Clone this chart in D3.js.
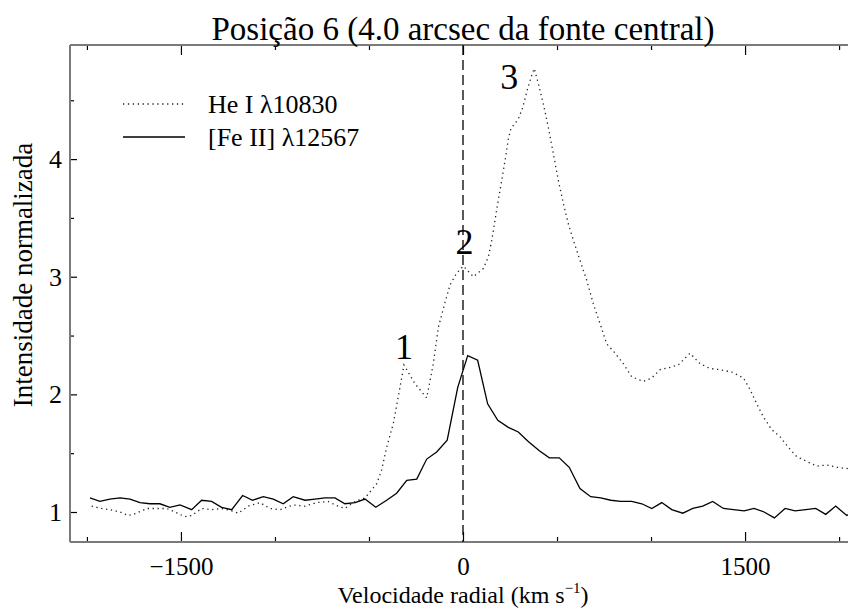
<!DOCTYPE html>
<html>
<head>
<meta charset="utf-8">
<script src="https://cdn.jsdelivr.net/npm/d3@7"></script>
<style>
  html, body { margin: 0; padding: 0; background: #fff; }
  svg { display: block; }
  text { font-family: "Liberation Serif", "Times New Roman", serif; fill: #000; }
</style>
</head>
<body>
<svg id="chart" width="848" height="608"></svg>
<script>
// He I 10830 profile: radial velocity (km/s) and normalized intensity
const heVel = [-1975, -1922, -1878, -1824, -1780, -1736, -1682, -1629, -1576, -1532,
  -1479, -1443, -1390, -1337, -1284, -1230, -1195, -1142, -1080, -1027,
  -973, -903, -840, -778, -718, -665, -628, -574, -521, -459,
  -432, -406, -371, -344, -314, -255, -193, -158, -131, -96,
  -69, -34, 2, 55, 108, 135, 153, 179, 206, 227,
  241, 255, 294, 318, 342, 365, 379, 401, 427, 454,
  480, 507, 534, 560, 587, 622, 658, 693, 729, 764,
  809, 853, 897, 959, 1004, 1048, 1101, 1145, 1207, 1261,
  1314, 1367, 1429, 1491, 1527, 1562, 1597, 1642, 1686, 1730,
  1775, 1828, 1881, 1935, 1988, 2041, 2090];
const heVal = [1.05, 1.03, 1.02, 1.00, 0.97, 0.99, 1.03, 1.03, 1.03, 1.00,
  0.96, 0.97, 1.03, 1.02, 1.03, 1.01, 0.99, 1.05, 1.08, 1.03,
  1.02, 1.06, 1.05, 1.08, 1.09, 1.05, 1.03, 1.09, 1.12, 1.24,
  1.36, 1.55, 1.75, 1.98, 2.25, 2.09, 1.97, 2.26, 2.57, 2.78,
  2.93, 3.03, 3.09, 3.00, 3.07, 3.17, 3.31, 3.57, 3.82, 4.02,
  4.17, 4.26, 4.34, 4.44, 4.59, 4.71, 4.77, 4.64, 4.47, 4.27,
  4.05, 3.82, 3.62, 3.45, 3.31, 3.14, 2.97, 2.77, 2.60, 2.43,
  2.35, 2.26, 2.15, 2.11, 2.14, 2.21, 2.23, 2.25, 2.35, 2.26,
  2.22, 2.21, 2.19, 2.14, 2.04, 1.92, 1.81, 1.70, 1.64, 1.55,
  1.47, 1.43, 1.39, 1.40, 1.38, 1.37, 1.36];

// [Fe II] 12567 profile
const feVel = [-1984, -1931, -1878, -1824, -1771, -1718, -1665, -1612, -1559, -1505,
  -1443, -1390, -1337, -1284, -1230, -1172, -1119, -1062, -1009, -956,
  -903, -840, -787, -734, -681, -628, -574, -521, -464, -406,
  -353, -299, -246, -193, -140, -84, -28, 25, 78, 131,
  185, 241, 294, 347, 406, 459, 512, 565, 622, 679,
  732, 786, 839, 897, 951, 1004, 1057, 1110, 1169, 1222,
  1275, 1328, 1385, 1438, 1495, 1548, 1601, 1656, 1713, 1766,
  1823, 1876, 1929, 1982, 2041, 2090];
const feVal = [1.12, 1.09, 1.11, 1.12, 1.11, 1.08, 1.07, 1.07, 1.04, 1.06,
  1.02, 1.10, 1.09, 1.04, 1.02, 1.14, 1.10, 1.13, 1.11, 1.07,
  1.13, 1.10, 1.11, 1.12, 1.12, 1.07, 1.08, 1.11, 1.04, 1.10,
  1.16, 1.27, 1.28, 1.45, 1.51, 1.61, 2.06, 2.33, 2.29, 1.92,
  1.78, 1.72, 1.68, 1.60, 1.52, 1.46, 1.46, 1.38, 1.20, 1.13,
  1.12, 1.10, 1.09, 1.09, 1.07, 1.03, 1.08, 1.02, 0.99, 1.03,
  1.05, 1.09, 1.03, 1.02, 1.01, 1.03, 1.00, 0.95, 1.03, 1.01,
  1.02, 1.03, 0.98, 1.05, 0.97, 1.02];

// Axis ticks
const xMajor = [-1500, 0, 1500];
const xMinor = [-2000, -1000, -500, 500, 1000, 2000];
const yMajor = [1, 2, 3, 4];
const yMinor = [1.5, 2.5, 3.5, 4.5];

// Component markers: label and the He I peak it sits beside
const peakLabels = ["1", "2", "3"];
const peakVel = [-314, 2, 379];
const peakVal = [2.25, 3.09, 4.77];

const legendNames = ["He I \u03bb10830", "[Fe II] \u03bb12567"];

const FONT = "'Liberation Serif', 'Times New Roman', serif";
const svg = d3.select("#chart");
const plotL = 70, plotR = 856, plotT = 45, plotB = 542;

const x = d3.scaleLinear().domain([-2090, 2090]).range([plotL, plotR]);
const y = d3.scaleLinear().domain([0.745, 4.97]).range([plotB, plotT]);

const axisGray = "#7a7a7a";

// Tick marks point into the plot on the bottom and top edges
function xTicks(g, vals, size, axisFn, labels) {
  const a = axisFn(x).tickValues(vals).tickSizeInner(-size).tickSizeOuter(0)
    .tickPadding(15.5).tickFormat(labels ? d3.format("") : () => "");
  g.call(a);
  g.attr("font-family", null).attr("font-size", null);
  g.select(".domain").remove();
  g.selectAll(".tick line").attr("stroke", "#000").attr("stroke-width", 1.2);
}
const gb1 = svg.append("g").attr("transform", `translate(0,${plotB})`);
xTicks(gb1, xMajor, 10, d3.axisBottom, true);
gb1.selectAll("text").attr("font-size", 25).attr("font-family", FONT);
const gb2 = svg.append("g").attr("transform", `translate(0,${plotB})`);
xTicks(gb2, xMinor, 5, d3.axisBottom, false);
const gt1 = svg.append("g").attr("transform", `translate(0,${plotT})`);
xTicks(gt1, xMajor, 10, d3.axisTop, false);
const gt2 = svg.append("g").attr("transform", `translate(0,${plotT})`);
xTicks(gt2, xMinor, 5, d3.axisTop, false);

// Left axis ticks
const gl1 = svg.append("g").attr("transform", `translate(${plotL},0)`)
  .call(d3.axisLeft(y).tickValues(yMajor).tickSizeInner(-7).tickSizeOuter(0).tickPadding(8).tickFormat(d3.format("d")));
gl1.attr("font-family", null).attr("font-size", null);
gl1.select(".domain").remove();
gl1.selectAll(".tick line").attr("stroke", "#000").attr("stroke-width", 1.2);
gl1.selectAll("text").attr("font-size", 26).attr("font-family", FONT);
const gl2 = svg.append("g").attr("transform", `translate(${plotL},0)`)
  .call(d3.axisLeft(y).tickValues(yMinor).tickSizeInner(-4).tickSizeOuter(0).tickFormat(() => ""));
gl2.select(".domain").remove();
gl2.selectAll(".tick line").attr("stroke", "#000").attr("stroke-width", 1.2);

// Frame lines
svg.append("line").attr("x1", plotL).attr("x2", 848).attr("y1", plotB).attr("y2", plotB)
  .attr("stroke", axisGray).attr("stroke-width", 2);
svg.append("line").attr("x1", plotL).attr("x2", 848).attr("y1", plotT).attr("y2", plotT)
  .attr("stroke", axisGray).attr("stroke-width", 2);
svg.append("line").attr("x1", plotL).attr("x2", plotL).attr("y1", plotT).attr("y2", plotB)
  .attr("stroke", axisGray).attr("stroke-width", 2);

// Zero-velocity reference
svg.append("line").attr("x1", x(0)).attr("x2", x(0)).attr("y1", plotT).attr("y2", plotB)
  .attr("stroke", "#000").attr("stroke-width", 1.3).attr("stroke-dasharray", "10 5");

const line = d3.line().x(d => x(d[0])).y(d => y(d[1]));
const heData = heVel.map((v, i) => [v, heVal[i]]);
const feData = feVel.map((v, i) => [v, feVal[i]]);

svg.append("path").datum(heData).attr("d", line).attr("fill", "none")
  .attr("stroke", "#222").attr("stroke-width", 1.3).attr("stroke-dasharray", "1.3 3.6");
svg.append("path").datum(feData).attr("d", line).attr("fill", "none")
  .attr("stroke", "#000").attr("stroke-width", 1.3);

// Peak markers
const labelDy = [-6, -12, 20];
const labelDx = [0, 1, -25];
peakLabels.forEach((t, i) => {
  svg.append("text").attr("x", x(peakVel[i]) + labelDx[i]).attr("y", y(peakVal[i]) + labelDy[i])
    .attr("text-anchor", "middle").attr("font-size", 36).attr("font-family", FONT).text(t);
});

// Legend
const legY = [104, 137];
svg.append("line").attr("x1", 123).attr("x2", 185).attr("y1", legY[0]).attr("y2", legY[0])
  .attr("stroke", "#222").attr("stroke-width", 1.3).attr("stroke-dasharray", "1.3 3.6");
svg.append("line").attr("x1", 123).attr("x2", 185).attr("y1", legY[1]).attr("y2", legY[1])
  .attr("stroke", "#000").attr("stroke-width", 1.3);
legendNames.forEach((t, i) => {
  svg.append("text").attr("x", 208).attr("y", legY[i] + 9).attr("font-size", 26)
    .attr("font-family", FONT).text(t);
});

// Title and axis titles
svg.append("text").attr("x", 463).attr("y", 40).attr("text-anchor", "middle")
  .attr("font-size", 33).attr("font-family", FONT).text("Posição 6 (4.0 arcsec da fonte central)");

const xl = svg.append("text").attr("x", 463).attr("y", 602.5).attr("text-anchor", "middle")
  .attr("font-size", 24).attr("font-family", FONT);
xl.append("tspan").text("Velocidade radial (km s");
xl.append("tspan").attr("dy", -10).attr("font-size", 15).text("\u22121");
xl.append("tspan").attr("dy", 10).text(")");

svg.append("text").attr("transform", "translate(32,275) rotate(-90)").attr("text-anchor", "middle")
  .attr("font-size", 27).attr("font-family", FONT).text("Intensidade normalizada");
</script>
</body>
</html>
